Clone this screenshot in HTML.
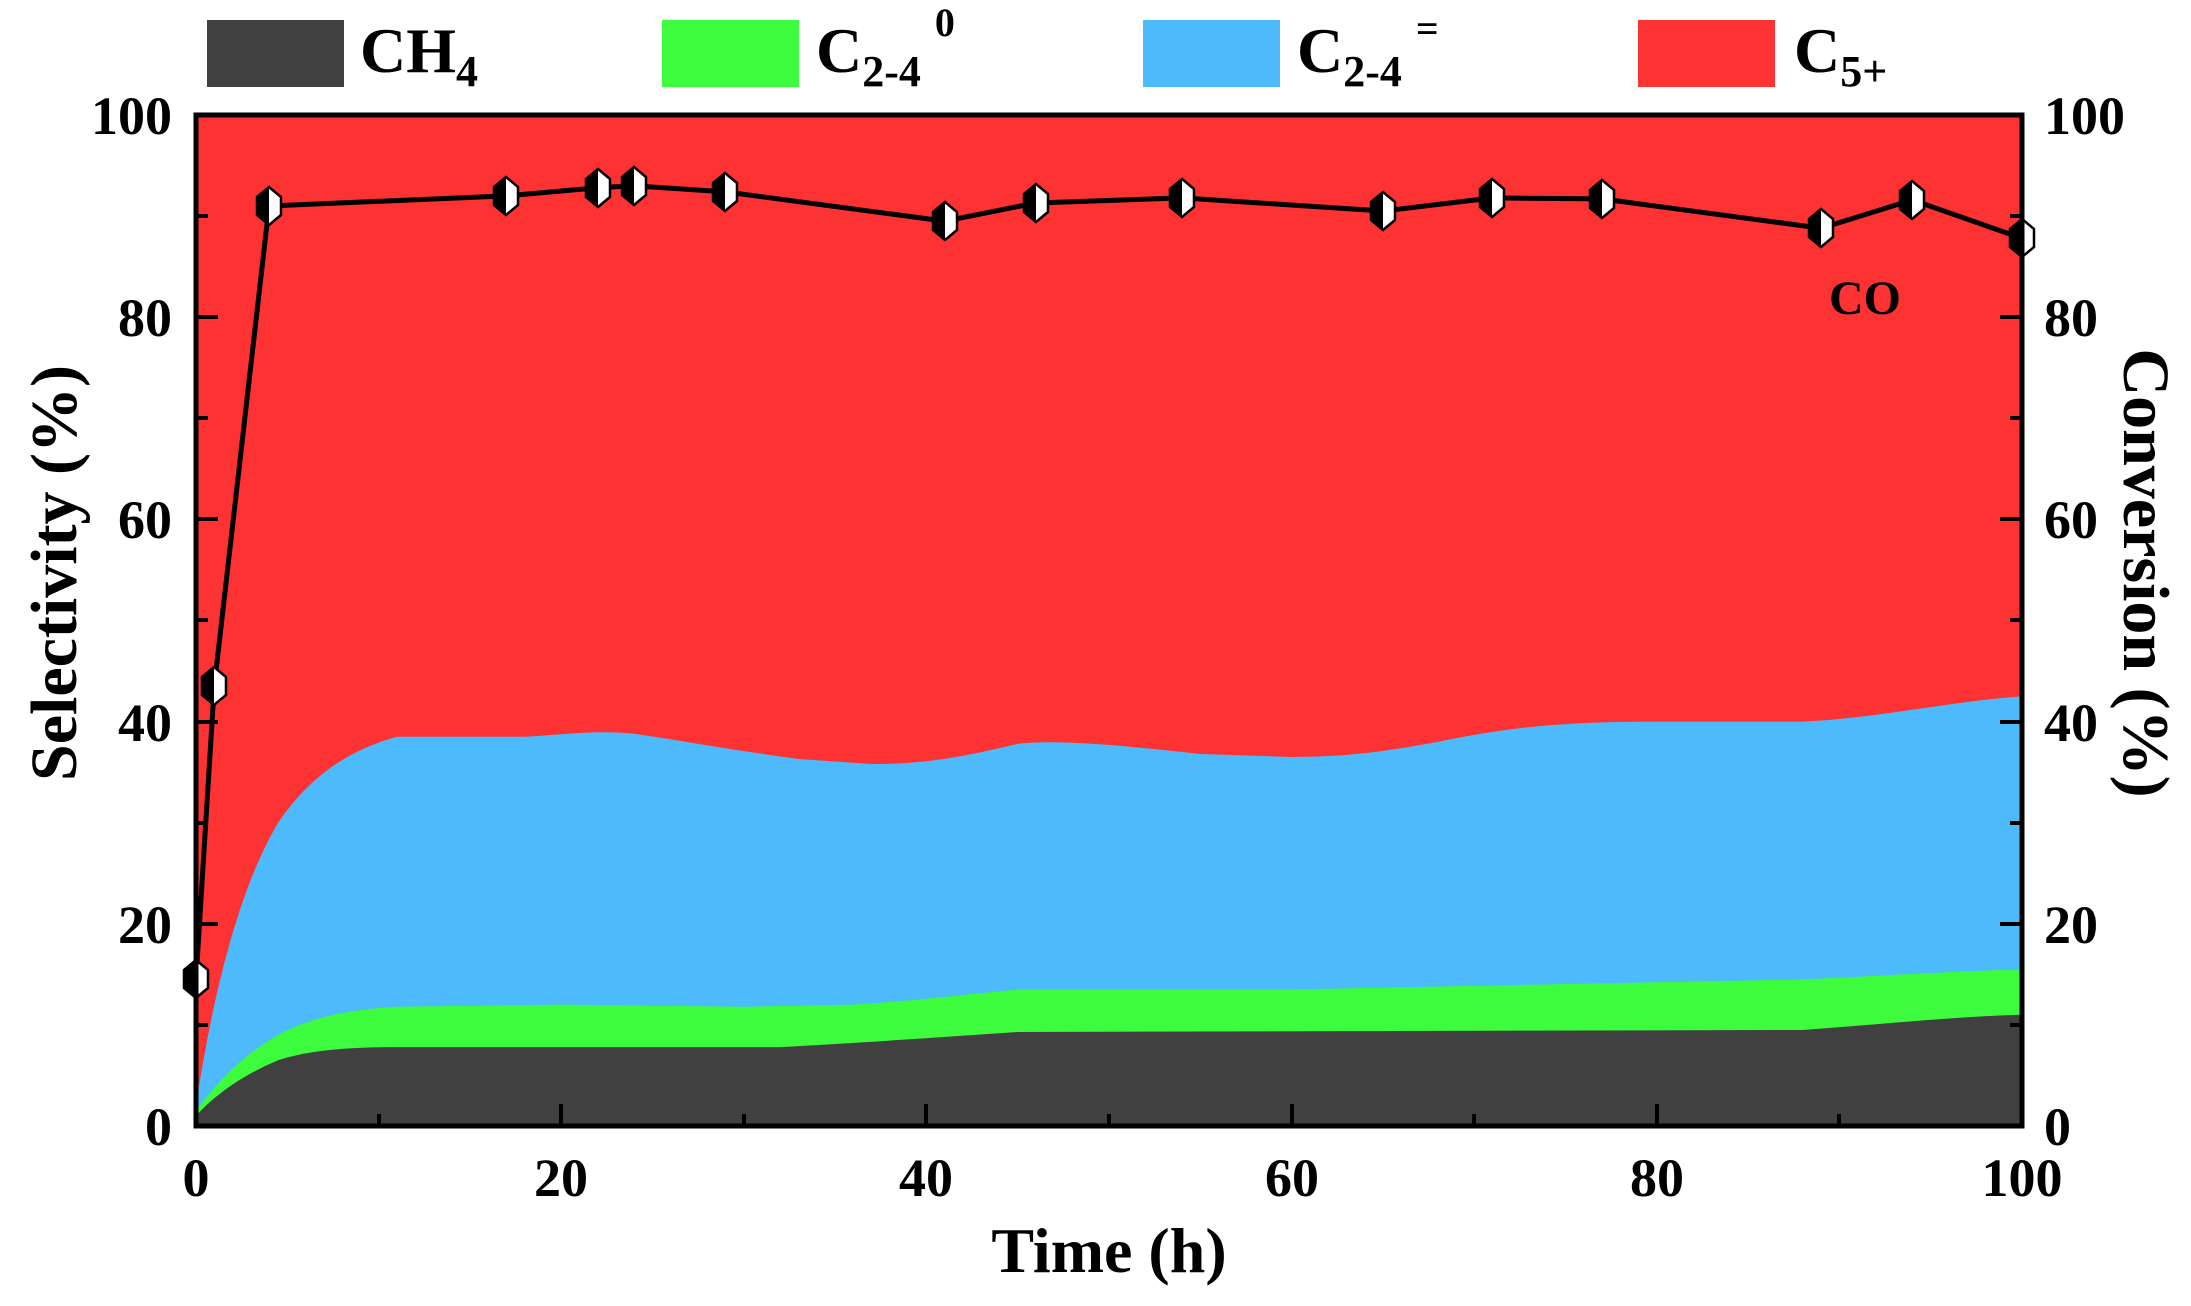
<!DOCTYPE html>
<html><head><meta charset="utf-8"><style>
html,body{margin:0;padding:0;background:#fff;}
svg{display:block;font-family:"Liberation Serif",serif;font-weight:bold;}
</style></head><body>
<svg width="2191" height="1306" viewBox="0 0 2191 1306" xmlns="http://www.w3.org/2000/svg">
<defs>
<g id="m">
<polygon points="0,-19 12,-9 12,9 0,19" fill="#fff"/>
<polygon points="0,-19 -12,-9 -12,9 0,19" fill="#000"/>
<polygon points="0,-19 12,-9 12,9 0,19 -12,9 -12,-9" fill="none" stroke="#000" stroke-width="2.5"/>
</g>
</defs>
<rect x="207" y="20" width="137" height="67" fill="#404040"/>
<text x="360" y="72" font-size="64">CH<tspan font-size="44" dy="14">4</tspan></text>
<rect x="662" y="20" width="137" height="67" fill="#3dfb3d"/>
<text x="816" y="72" font-size="64">C<tspan font-size="44" dy="14">2-4</tspan><tspan font-size="40" dy="-50" dx="14">0</tspan></text>
<rect x="1143" y="20" width="137" height="67" fill="#4dbbfb"/>
<text x="1297" y="72" font-size="64">C<tspan font-size="44" dy="14">2-4</tspan><tspan font-size="40" dy="-44" dx="14">=</tspan></text>
<rect x="1638" y="20" width="137" height="67" fill="#fd3333"/>
<text x="1794" y="72" font-size="64">C<tspan font-size="44" dy="14">5+</tspan></text>

<g transform="translate(196,1126) scale(18.26,-10.11)">
<rect x="0" y="0" width="100" height="100" fill="#fd3333"/>
<path fill="#4dbbfb" d="M0,0 L0,2 C1,14 2.5,24 4.5,30 C6,34 8,37 11,38.5 L18,38.5 C20,38.7 22,39.2 24,38.8 C27,38 30,37 33,36.3 L37,35.8 C40,35.8 42,36.5 45,37.8 C47,38.2 50,37.8 55,36.8 L60,36.5 C63,36.5 65,37 68,38 C72,39.5 75,40 80,40 L88,40 C92,40.3 96,42 100,42.5 L100,0 Z"/>
<path fill="#3dfb3d" d="M0,0 L0,1.5 C1,4 2.5,7 4.5,9 C6,10.5 8,11.5 11,11.8 L20,12 L30,11.8 L36,12 C40,12.5 42,13 45,13.5 L60,13.5 L88,14.5 C92,14.8 96,15.3 100,15.5 L100,0 Z"/>
<path fill="#404040" d="M0,0 L0,1 C1,3 2.5,5 4.5,6.5 C6,7.4 8,7.8 11,7.8 L32,7.8 C37,8.3 41,8.8 45,9.3 L88,9.5 C92,10 96,10.8 100,11 L100,0 Z"/>
<polyline fill="none" stroke="#000" stroke-width="5" vector-effect="non-scaling-stroke" stroke-linejoin="round"
 points="0,14.5 1,43.5 4,91 17,92 22,92.8 24,93 29,92.4 41,89.5 46,91.3 54,91.8 65,90.5 71,91.8 77,91.7 89,88.8 94,91.6 100,87.8"/>
</g>
<use href="#m" x="196" y="979"/>
<use href="#m" x="214" y="686"/>
<use href="#m" x="269" y="206"/>
<use href="#m" x="506" y="196"/>
<use href="#m" x="598" y="188"/>
<use href="#m" x="634" y="186"/>
<use href="#m" x="725" y="192"/>
<use href="#m" x="945" y="221"/>
<use href="#m" x="1036" y="203"/>
<use href="#m" x="1182" y="198"/>
<use href="#m" x="1383" y="211"/>
<use href="#m" x="1492" y="198"/>
<use href="#m" x="1602" y="199"/>
<use href="#m" x="1821" y="228"/>
<use href="#m" x="1912" y="200"/>
<use href="#m" x="2022" y="238"/>

<rect x="196" y="115" width="1826" height="1011" fill="none" stroke="#000" stroke-width="5"/>
<g stroke="#000" stroke-width="4">
<path d="M196,1126v-22M379,1126v-12M561,1126v-22M744,1126v-12M926,1126v-22M1109,1126v-12M1292,1126v-22M1474,1126v-12M1657,1126v-22M1839,1126v-12"/>
<path d="M196,924h22M196,722h22M196,519h22M196,317h22M196,1025h12M196,823h12M196,620h12M196,418h12M196,216h12"/>
<path d="M2022,924h-22M2022,722h-22M2022,519h-22M2022,317h-22M2022,1025h-12M2022,823h-12M2022,620h-12M2022,418h-12M2022,216h-12"/>
</g>
<g font-size="54" text-anchor="middle">
<text x="196" y="1196">0</text><text x="561" y="1196">20</text><text x="926" y="1196">40</text>
<text x="1292" y="1196">60</text><text x="1657" y="1196">80</text><text x="2022" y="1196">100</text>
</g>
<g font-size="54" text-anchor="end">
<text x="172" y="1145">0</text><text x="172" y="943">20</text><text x="172" y="741">40</text>
<text x="172" y="538">60</text><text x="172" y="336">80</text><text x="172" y="134">100</text>
</g>
<g font-size="54" text-anchor="start">
<text x="2044" y="1145">0</text><text x="2044" y="943">20</text><text x="2044" y="741">40</text>
<text x="2044" y="538">60</text><text x="2044" y="336">80</text><text x="2044" y="134">100</text>
</g>
<text x="1109" y="1272" font-size="64" text-anchor="middle">Time (h)</text>
<text transform="translate(76,573) rotate(-90)" font-size="66" text-anchor="middle">Selectivity (%)</text>
<text transform="translate(2124,573) rotate(90)" font-size="66" text-anchor="middle">Conversion  (%)</text>
<text x="1865" y="314" font-size="48" text-anchor="middle">CO</text>
</svg>
</body></html>
